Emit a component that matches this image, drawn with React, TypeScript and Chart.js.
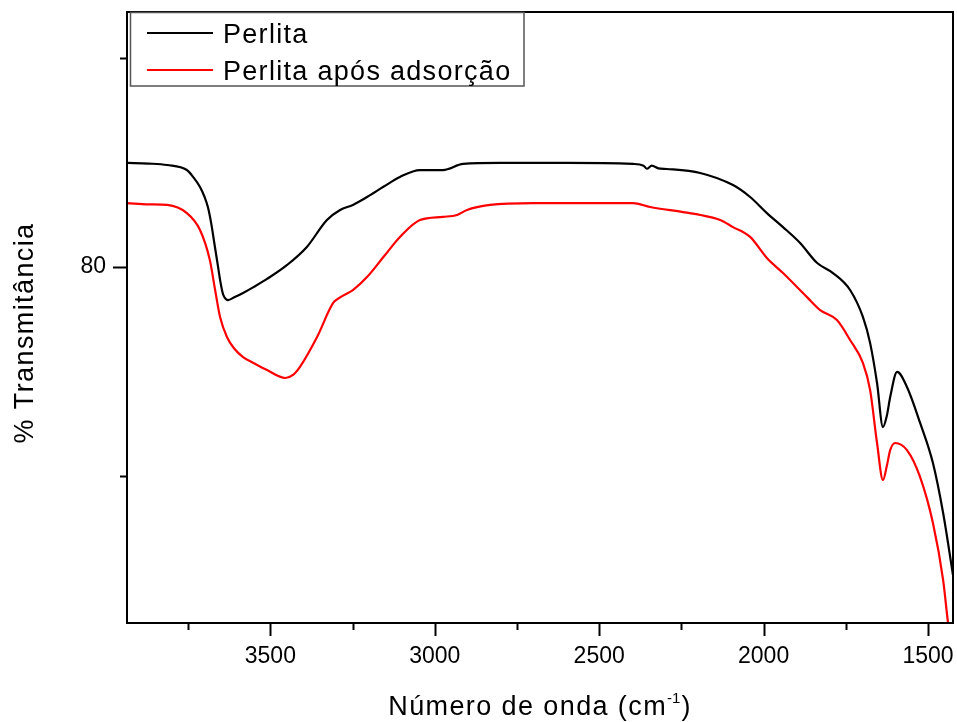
import React, { useEffect, useRef } from "react";
import { Chart, registerables } from "chart.js";

Chart.register(...registerables);

// Perlita (black)
const perlitaWavenumber = [3936, 3870, 3814, 3754, 3735, 3714, 3700, 3690, 3680, 3670, 3660, 3652, 3644, 3629, 3610, 3583, 3550, 3510, 3449, 3389, 3328, 3288, 3249, 3206, 3155, 3106, 3045, 2975, 2914, 2802, 2598, 2397, 2365, 2355, 2340, 2320, 2294, 2193, 2093, 2041, 1990, 1941, 1889, 1837, 1789, 1737, 1698, 1676, 1655, 1637, 1625, 1615, 1594, 1564, 1524, 1485, 1454, 1424];
const perlitaTransmit = [84.98, 84.95, 84.88, 84.64, 84.31, 83.83, 83.35, 82.87, 82.1, 81.1, 80.1, 79.3, 78.7, 78.42, 78.55, 78.76, 79.05, 79.43, 80.1, 80.96, 82.25, 82.73, 82.97, 83.35, 83.85, 84.31, 84.64, 84.64, 84.93, 84.98, 84.98, 84.93, 84.85, 84.7, 84.85, 84.72, 84.69, 84.5, 83.92, 83.35, 82.58, 81.91, 81.15, 80.19, 79.71, 78.9, 77.61, 76.36, 74.45, 72.34, 72.9, 73.78, 74.98, 74.26, 72.54, 70.62, 68.23, 65.26];

// Perlita após adsorção (red)
const adsorcaoWavenumber = [3936, 3870, 3814, 3754, 3714, 3684, 3668, 3653, 3632, 3610, 3583, 3550, 3510, 3455, 3430, 3410, 3358, 3309, 3288, 3249, 3206, 3155, 3106, 3045, 2975, 2932, 2902, 2832, 2701, 2397, 2345, 2245, 2193, 2132, 2093, 2041, 1990, 1941, 1868, 1828, 1777, 1737, 1698, 1676, 1655, 1637, 1625, 1615, 1600, 1564, 1524, 1485, 1454, 1439, 1424];
const adsorcaoTransmit = [83.06, 83.0, 82.97, 82.58, 81.77, 80.33, 78.9, 77.61, 76.65, 76.1, 75.69, 75.4, 75.07, 74.69, 74.85, 75.22, 76.65, 78.28, 78.55, 78.9, 79.52, 80.5, 81.44, 82.25, 82.4, 82.49, 82.73, 82.97, 83.06, 83.06, 82.87, 82.63, 82.49, 82.25, 81.91, 81.44, 80.43, 79.71, 78.56, 77.94, 77.46, 76.51, 75.41, 74.11, 71.58, 69.81, 70.5, 71.24, 71.58, 71.24, 69.95, 67.75, 65.02, 62.97, 61.4];

const seriesNames = ["Perlita", "Perlita após adsorção"];
const seriesColors = ["#000000", "#ff0000"];

const xMin = 1424;
const xMax = 3936;
const yMin = 62.97;
const yMax = 92.2;
const xTickValues = [3750, 3500, 3250, 3000, 2750, 2500, 2250, 2000, 1750, 1500];
const xLabeledTicks = [3500, 3000, 2500, 2000, 1500];
const yTickValues = [70, 80, 90];
const yLabeledTicks = [80];

const xTitleMain = "Número de onda (cm";
const xTitleSup = "-1";
const xTitleEnd = ")";
const yTitle = "% Transmitância";

const FONT = '"Liberation Sans", Arial, sans-serif';

const toPoints = (xs: number[], ys: number[]) => xs.map((x, i) => ({ x, y: ys[i] }));

const zeroPad = (s: any) => {
  s.paddingLeft = 0;
  s.paddingRight = 0;
  s.paddingTop = 0;
  s.paddingBottom = 0;
};

const decorPlugin = {
  id: "decor",
  afterDraw(chart: any) {
    const ctx = chart.ctx as CanvasRenderingContext2D;
    const a = chart.chartArea;
    const xs = chart.scales.x;
    const ys = chart.scales.y;
    ctx.save();
    ctx.strokeStyle = "#000";
    ctx.lineWidth = 2;
    ctx.strokeRect(a.left, a.top, a.right - a.left, a.bottom - a.top);
    for (const v of xTickValues) {
      const px = Math.round(xs.getPixelForValue(v)) + 0.5;
      const len = xLabeledTicks.includes(v) ? 13 : 7;
      ctx.beginPath();
      ctx.moveTo(px, a.bottom);
      ctx.lineTo(px, a.bottom + len);
      ctx.stroke();
    }
    for (const v of yTickValues) {
      const py = Math.round(ys.getPixelForValue(v)) + 0.5;
      const len = yLabeledTicks.includes(v) ? 14 : 7;
      ctx.beginPath();
      ctx.moveTo(a.left, py);
      ctx.lineTo(a.left - len, py);
      ctx.stroke();
    }
    // legend
    const lx = a.left + 3.5;
    const ly = a.top + 0.5;
    ctx.lineWidth = 1.5;
    ctx.strokeStyle = "#555";
    ctx.strokeRect(lx, ly, 524 - lx, 86 - ly);
    ctx.font = `27px ${FONT}`;
    (ctx as any).letterSpacing = "1.3px";
    ctx.textBaseline = "alphabetic";
    ctx.textAlign = "left";
    ctx.fillStyle = "#000";
    const rows = [33, 70];
    seriesNames.forEach((name, i) => {
      const y = rows[i];
      ctx.strokeStyle = seriesColors[i];
      ctx.lineWidth = 2.2;
      ctx.beginPath();
      ctx.moveTo(a.left + 20, y);
      ctx.lineTo(a.left + 86, y);
      ctx.stroke();
      ctx.fillText(name, a.left + 96, y + 10);
    });
    // x title with superscript
    (ctx as any).letterSpacing = "1.4px";
    ctx.font = `27px ${FONT}`;
    const w1 = ctx.measureText(xTitleMain).width;
    const w3 = ctx.measureText(xTitleEnd).width;
    ctx.font = `15px ${FONT}`;
    (ctx as any).letterSpacing = "0px";
    const w2 = ctx.measureText(xTitleSup).width;
    const total = w1 + w2 + w3 + 1;
    const cx = (a.left + a.right) / 2;
    let tx = cx - total / 2;
    const base = 715;
    ctx.font = `27px ${FONT}`;
    (ctx as any).letterSpacing = "1.4px";
    ctx.fillText(xTitleMain, tx, base);
    tx += w1;
    ctx.font = `15px ${FONT}`;
    (ctx as any).letterSpacing = "0px";
    ctx.fillText(xTitleSup, tx, base - 12);
    tx += w2 + 1;
    ctx.font = `27px ${FONT}`;
    (ctx as any).letterSpacing = "1.4px";
    ctx.fillText(xTitleEnd, tx, base);
    // y title
    ctx.save();
    ctx.translate(33, 333);
    ctx.rotate(-Math.PI / 2);
    ctx.textAlign = "center";
    ctx.fillText(yTitle, 0, 0);
    ctx.restore();
    ctx.restore();
  },
};

export default function App() {
  const ref = useRef<HTMLCanvasElement | null>(null);
  useEffect(() => {
    if (!ref.current) return;
    const chart = new Chart(ref.current, {
      type: "line",
      data: {
        datasets: [
          {
            label: seriesNames[0],
            data: toPoints(perlitaWavenumber, perlitaTransmit),
            borderColor: seriesColors[0],
            borderWidth: 2.2,
            pointRadius: 0,
            fill: false,
            cubicInterpolationMode: "monotone",
          },
          {
            label: seriesNames[1],
            data: toPoints(adsorcaoWavenumber, adsorcaoTransmit),
            borderColor: seriesColors[1],
            borderWidth: 2.2,
            pointRadius: 0,
            fill: false,
            cubicInterpolationMode: "monotone",
          },
        ],
      },
      options: {
        animation: false,
        responsive: true,
        maintainAspectRatio: false,
        layout: { padding: { top: 12, right: 4, left: 0, bottom: 0 } },
        plugins: {
          legend: { display: false },
          tooltip: { enabled: false },
        },
        scales: {
          x: {
            type: "linear",
            reverse: true,
            min: xMin,
            max: xMax,
            afterFit: (s: any) => {
              s.height = 99;
              zeroPad(s);
            },
            afterBuildTicks: (s: any) => {
              s.ticks = xLabeledTicks.map((v) => ({ value: v }));
            },
            grid: { display: false, drawTicks: false },
            border: { display: false },
            ticks: {
              padding: 20,
              color: "#000",
              font: { family: FONT, size: 23 },
              maxRotation: 0,
              autoSkip: false,
              callback: (v: any) => String(v),
            },
          },
          y: {
            type: "linear",
            min: yMin,
            max: yMax,
            afterFit: (s: any) => {
              s.width = 127;
              zeroPad(s);
            },
            afterBuildTicks: (s: any) => {
              s.ticks = yLabeledTicks.map((v) => ({ value: v }));
            },
            grid: { display: false, drawTicks: false },
            border: { display: false },
            ticks: {
              padding: 21,
              color: "#000",
              font: { family: FONT, size: 23 },
              autoSkip: false,
              callback: (v: any) => String(v),
            },
          },
        },
      },
      plugins: [decorPlugin],
    });
    return () => chart.destroy();
  }, []);
  return (
    <div style={{ position: "absolute", left: 0, top: 0, width: 957, height: 722, background: "#fff" }}>
      <canvas ref={ref} />
    </div>
  );
}
